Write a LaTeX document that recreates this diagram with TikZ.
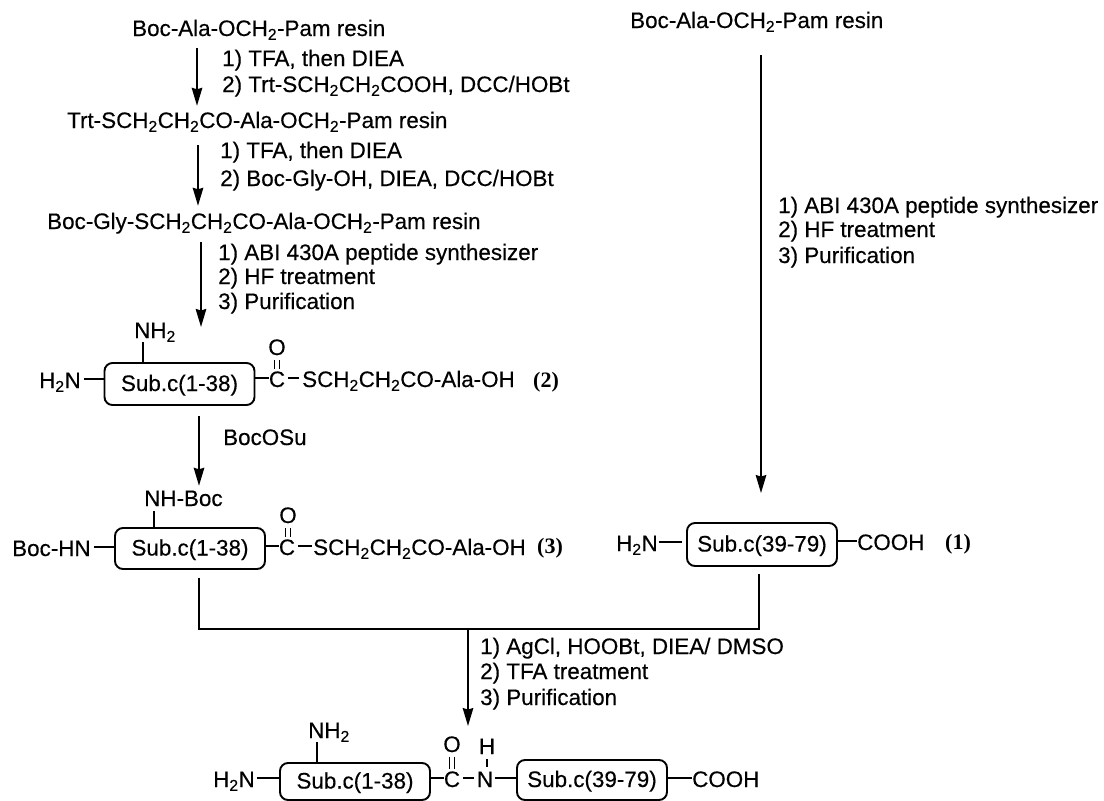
\documentclass[tikz,border=0pt]{standalone}
\usepackage{fontspec}
\setmainfont{Liberation Sans}[FakeBold=0.35]
\newfontfamily\numfont{Liberation Serif}
\usetikzlibrary{arrows.meta}
\newcommand{\ttwo}{\textsubscript{2}}
\tikzset{
    chem/.style={inner sep=0pt,text height=18pt,text depth=0pt,anchor=base west},
    atom/.style={inner sep=0pt,text height=18pt,text depth=0pt,anchor=base},
    cond/.style={inner sep=0pt,anchor=base west},
    num/.style={inner sep=0pt,anchor=base west,font=\fontsize{22}{26}\selectfont\numfont\bfseries},
    subbox/.style={draw,rounded corners=8pt,line width=1.9pt,minimum width=150pt,inner sep=0pt,text height=14pt,text depth=0pt},
    bond/.style={line width=1.9pt},
    dbl/.style={double,double distance=3.5pt,line width=1.7pt,shorten <=5pt},
    rxn/.style={line width=1.9pt,-{Stealth[length=18pt,width=10.5pt,inset=1.5pt]}}
}
\begin{document}
\begin{tikzpicture}[x=1pt,y=-1pt,font=\fontsize{22.4}{26}\selectfont]
    \useasboundingbox (0,0) rectangle (1104,801);

    \coordinate (a1) at (197,0);
    \coordinate (a2) at (198,0);
    \coordinate (a3) at (201,0);
    \coordinate (a3e) at (201,327);
    \coordinate (a4) at (199,0);
    \coordinate (a5) at (761,0);
    \coordinate (ml) at (199,629);
    \coordinate (mr) at (759,629);
    \coordinate (mj) at (468,629);

    \node[chem] (ala1) at (132,36) {Boc-Ala-OCH\ttwo-Pam resin};
    \node[chem] (trt) at (67,128) {Trt-SCH\ttwo CH\ttwo CO-Ala-OCH\ttwo-Pam resin};
    \node[chem] (gly) at (47,229) {Boc-Gly-SCH\ttwo CH\ttwo CO-Ala-OCH\ttwo-Pam resin};
    \node[chem] (ala2) at (630,28) {Boc-Ala-OCH\ttwo-Pam resin};

    \node[cond] (c1a) at (222,66) {1) TFA, then DIEA};
    \node[cond] (c1b) at (222,92) {2) Trt-SCH\ttwo CH\ttwo COOH, DCC/HOBt};
    \node[cond] (c2a) at (220,158) {1) TFA, then DIEA};
    \node[cond] (c2b) at (220,186) {2) Boc-Gly-OH, DIEA, DCC/HOBt};
    \node[cond] (c3a) at (218,260) {1) ABI 430A peptide synthesizer};
    \node[cond] (c3b) at (218,284) {2) HF treatment};
    \node[cond] (c3c) at (218,309) {3) Purification};
    \node[cond] (c4a) at (223,445) {BocOSu};
    \node[cond] (c5a) at (778,213) {1) ABI 430A peptide synthesizer};
    \node[cond] (c5b) at (778,237) {2) HF treatment};
    \node[cond] (c5c) at (778,263) {3) Purification};
    \node[cond] (c6a) at (480,654) {1) AgCl, HOOBt, DIEA/ DMSO};
    \node[cond] (c6b) at (480,679) {2) TFA treatment};
    \node[cond] (c6c) at (480,705) {3) Purification};

    \node[subbox,minimum height=42pt] (box1) at (179.5,384) {Sub.c(1-38)};
    \node[chem] (hn1) at (39,388) {H\ttwo N};
    \node[chem] (nh1) at (134,338) {NH\ttwo};
    \node[atom] (cc1) at (277,387) {C};
    \node[atom] (oo1) at (277,355) {O};
    \node[chem] (sch1) at (302,387) {SCH\ttwo CH\ttwo CO-Ala-OH};
    \node[num] (n2) at (533,387) {(2)};

    \node[subbox,minimum height=41pt] (box2) at (190,548.5) {Sub.c(1-38)};
    \node[chem] (hn2) at (12,556) {Boc-HN};
    \node[chem] (nh2) at (144,506) {NH-Boc};
    \node[atom] (cc2) at (287,555) {C};
    \node[atom] (oo2) at (288,523) {O};
    \node[chem] (sch2) at (313,555) {SCH\ttwo CH\ttwo CO-Ala-OH};
    \node[num] (n3) at (537,553) {(3)};

    \node[subbox,minimum height=43pt] (box3) at (762,544.5) {Sub.c(39-79)};
    \node[chem] (hn3) at (616,551) {H\ttwo N};
    \node[chem] (cooh1) at (857,550) {COOH};
    \node[num] (n1) at (945,549) {(1)};

    \node[subbox,minimum height=37pt] (box4) at (355,781.5) {Sub.c(1-38)};
    \node[subbox,minimum height=40pt] (box5) at (592,780) {Sub.c(39-79)};
    \node[chem] (hn4) at (213,787) {H\ttwo N};
    \node[chem] (nh4) at (308,738) {NH\ttwo};
    \node[atom] (cc4) at (452,787) {C};
    \node[atom] (oo4) at (452,752) {O};
    \node[atom] (nn4) at (485,787) {N};
    \node[atom] (hh4) at (487,754) {H};
    \node[chem] (cooh2) at (692,787) {COOH};

    \draw[rxn,shorten <=12pt,shorten >=4pt] (ala1.south -| a1) -- (trt.north -| a1);
    \draw[rxn,shorten <=17pt,shorten >=5pt] (trt.south -| a2) -- (gly.north -| a2);
    \draw[rxn,shorten <=13pt] (gly.south -| a3) -- (a3e);
    \draw[rxn,shorten <=10pt,shorten >=2pt] (box1.south -| a4) -- (nh2.north -| a4);
    \draw[rxn,shorten <=27pt,shorten >=29pt] (ala2.south -| a5) -- (box3.north -| a5);
    \draw[bond,shorten <=8pt,shorten >=7pt] (box2.south -| ml) -- (ml) -- (mr) -- (box3.south -| mr);
    \draw[rxn,shorten >=36pt] (mj) -- (box4.north -| mj);

    \draw[bond,shorten <=3pt] (hn1.east) -- (hn1.east -| box1.west);
    \draw[bond,shorten <=4pt] ([xshift=-12pt]nh1.south) -- ([xshift=-12pt]nh1.south |- box1.north);
    \draw[bond] (cc1.west -| box1.east) -- (cc1.west);
    \draw[bond,shorten <=3pt,shorten >=3pt] (cc1.east) -- (sch1.west);
    \draw[dbl] (oo1.south) -- (oo1.south |- cc1.north);

    \draw[bond,shorten <=3pt] (hn2.east) -- (hn2.east -| box2.west);
    \draw[bond,shorten <=5pt] ([xshift=-29.5pt]nh2.south) -- ([xshift=-29.5pt]nh2.south |- box2.north);
    \draw[bond] (cc2.west -| box2.east) -- (cc2.west);
    \draw[bond,shorten <=3pt,shorten >=1pt] (cc2.east) -- (sch2.west);
    \draw[dbl] (oo2.south) -- (oo2.south |- cc2.north);

    \draw[bond,shorten <=1pt,shorten >=4pt] (hn3.east) -- (hn3.east -| box3.west);
    \draw[bond] (cooh1.west -| box3.east) -- (cooh1.west);

    \draw[bond,shorten <=2pt] (hn4.east) -- (hn4.east -| box4.west);
    \draw[bond,shorten <=4pt] ([xshift=-12pt]nh4.south) -- ([xshift=-12pt]nh4.south |- box4.north);
    \draw[bond] (cc4.west -| box4.east) -- (cc4.west);
    \draw[bond,shorten <=3pt,shorten >=3pt] (cc4.east) -- (nn4.west);
    \draw[dbl] (oo4.south) -- (oo4.south |- cc4.north);
    \draw[bond,shorten <=5pt,shorten >=2pt] (hh4.south) -- (hh4.south |- nn4.north);
    \draw[bond,shorten <=2pt] (nn4.east) -- (nn4.east -| box5.west);
    \draw[bond] (cooh2.west -| box5.east) -- (cooh2.west);
\end{tikzpicture}
\end{document}
